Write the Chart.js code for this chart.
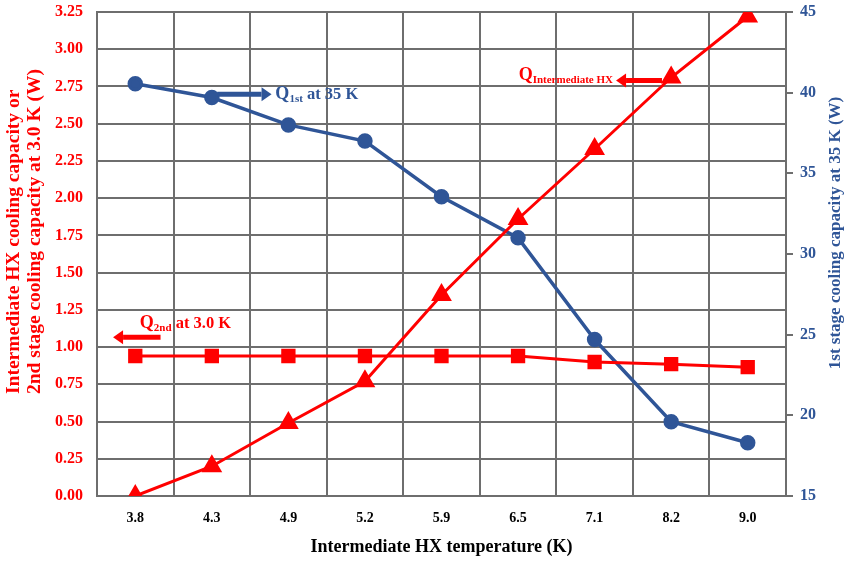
<!DOCTYPE html>
<html>
<head>
<meta charset="utf-8">
<script src="https://cdn.jsdelivr.net/npm/chart.js@4"></script>
<style>
  html, body { margin: 0; padding: 0; background: #fff; }
  #wrap { width: 845px; height: 561px; }
</style>
</head>
<body>
<div id="wrap"><canvas id="chart"></canvas></div>
<script>
const temps = ["3.8", "4.3", "4.9", "5.2", "5.9", "6.5", "7.1", "8.2", "9.0"];
const qIntermediate = [0.0, 0.2, 0.49, 0.77, 1.35, 1.86, 2.33, 2.81, 3.22];
const q2nd = [0.94, 0.94, 0.94, 0.94, 0.94, 0.94, 0.9, 0.885, 0.865];
const q1st = [40.55, 39.7, 38.0, 37.0, 33.55, 31.0, 24.7, 19.6, 18.3];
const leftTicks = [0, 0.25, 0.5, 0.75, 1, 1.25, 1.5, 1.75, 2, 2.25, 2.5, 2.75, 3, 3.25];
const rightTicks = [15, 20, 25, 30, 35, 40, 45];
const leftTitle = ["Intermediate HX cooling capacity or", "2nd stage cooling capacity at 3.0 K (W)"];
const rightTitle = "1st stage cooling capacity at 35 K (W)";

const RED = "#ff0000";
const BLUE = "#2f5597";
const GRID = "#6e6e6e";
const FONT = "'Liberation Serif', 'Times New Roman', serif";

// note positions in data units: [x index, axis value]
const notes = [
  { axis: "y2", color: BLUE, from: [1.07, 39.9], to: [1.78, 39.9],
    textAt: [1.83, 39.9], align: "left", main: "Q", sub: "1st", tail: " at 35 K" },
  { axis: "y", color: RED, from: [6.88, 2.79], to: [6.28, 2.79],
    textAt: [6.24, 2.83], align: "right", main: "Q", sub: "Intermediate HX", tail: "" },
  { axis: "y", color: RED, from: [0.33, 1.066], to: [-0.29, 1.066],
    textAt: [0.06, 1.165], align: "left", main: "Q", sub: "2nd", tail: " at 3.0 K" }
];

function drawArrow(ctx, x1, y1, x2, y2, color) {
  const dir = Math.sign(x2 - x1);
  const head = 10;
  ctx.save();
  ctx.strokeStyle = color;
  ctx.fillStyle = color;
  ctx.lineWidth = 5;
  ctx.beginPath();
  ctx.moveTo(x1, y1);
  ctx.lineTo(x2 - dir * head, y2);
  ctx.stroke();
  ctx.beginPath();
  ctx.moveTo(x2, y2);
  ctx.lineTo(x2 - dir * head, y2 - 7);
  ctx.lineTo(x2 - dir * head, y2 + 7);
  ctx.closePath();
  ctx.fill();
  ctx.restore();
}

const notePlugin = {
  id: "notes",
  afterDatasetsDraw(chart) {
    const ctx = chart.ctx;
    const xs = chart.scales.x;
    notes.forEach(n => {
      const ys = chart.scales[n.axis];
      drawArrow(ctx, xs.getPixelForValue(n.from[0]), ys.getPixelForValue(n.from[1]),
        xs.getPixelForValue(n.to[0]), ys.getPixelForValue(n.to[1]), n.color);
      const mainF = "bold 18px " + FONT, subF = "bold 11px " + FONT, tailF = "bold 16.5px " + FONT;
      ctx.save();
      ctx.fillStyle = n.color;
      ctx.textBaseline = "alphabetic";
      ctx.font = mainF; const w1 = ctx.measureText(n.main).width;
      ctx.font = subF; const w2 = ctx.measureText(n.sub).width;
      ctx.font = tailF; const w3 = ctx.measureText(n.tail).width;
      const total = w1 + w2 + w3;
      let x = xs.getPixelForValue(n.textAt[0]);
      if (n.align === "right") x -= total;
      const y = ys.getPixelForValue(n.textAt[1]) + 5;
      ctx.font = mainF; ctx.fillText(n.main, x, y);
      ctx.font = subF; ctx.fillText(n.sub, x + w1, y + 3);
      ctx.font = tailF; ctx.fillText(n.tail, x + w1 + w2, y);
      ctx.restore();
    });
  }
};

// vertical axis titles: left one is start-aligned at the bottom, like the original
const axisTitlePlugin = {
  id: "axisTitles",
  afterDraw(chart) {
    const ctx = chart.ctx;
    const area = chart.chartArea;
    ctx.save();
    ctx.textBaseline = "middle";
    ctx.textAlign = "left";
    ctx.font = "bold 19.5px " + FONT;
    ctx.fillStyle = RED;
    leftTitle.forEach((line, i) => {
      ctx.save();
      ctx.translate(14 + i * 21, area.bottom - 102);
      ctx.rotate(-Math.PI / 2);
      ctx.fillText(line, 0, 0);
      ctx.restore();
    });
    ctx.textAlign = "center";
    ctx.font = "bold 17px " + FONT;
    ctx.fillStyle = BLUE;
    ctx.translate(836, (area.top + area.bottom) / 2 - 21);
    ctx.rotate(-Math.PI / 2);
    ctx.fillText(rightTitle, 0, 0);
    ctx.restore();
  }
};

const fitY = w => s => { s.width = w; s.paddingTop = 0; s.paddingBottom = 0; };

new Chart(document.getElementById("chart"), {
  type: "line",
  data: {
    labels: temps,
    datasets: [
      {
        label: "Q Intermediate HX",
        data: qIntermediate,
        yAxisID: "y",
        borderColor: RED,
        backgroundColor: RED,
        borderWidth: 3,
        pointStyle: "triangle",
        pointRadius: 9,
        pointHoverRadius: 9
      },
      {
        label: "Q 2nd at 3.0 K",
        data: q2nd,
        yAxisID: "y",
        borderColor: RED,
        backgroundColor: RED,
        borderWidth: 3,
        pointStyle: "rect",
        pointRadius: 8,
        pointHoverRadius: 8
      },
      {
        label: "Q 1st at 35 K",
        data: q1st,
        yAxisID: "y2",
        borderColor: BLUE,
        backgroundColor: BLUE,
        borderWidth: 3.5,
        pointStyle: "circle",
        pointRadius: 6,
        pointHoverRadius: 6
      }
    ]
  },
  options: {
    responsive: true,
    maintainAspectRatio: false,
    animation: false,
    layout: { padding: { top: 11, left: 0, right: 0, bottom: 0 } },
    plugins: { legend: { display: false }, tooltip: { enabled: false } },
    scales: {
      x: {
        offset: true,
        grid: { offset: true, color: GRID, lineWidth: 2, drawTicks: false },
        border: { color: GRID, width: 2 },
        ticks: { color: "#000", padding: 14, font: { family: FONT, size: 14, weight: "bold" } },
        title: {
          display: true,
          text: "Intermediate HX temperature (K)",
          color: "#000",
          padding: { top: 0, bottom: 3 },
          font: { family: FONT, size: 18, weight: "bold" }
        },
        afterFit: s => { s.height = 65; s.paddingLeft = 0; s.paddingRight = 0; }
      },
      y: {
        position: "left",
        min: 0,
        max: 3.25,
        afterBuildTicks: s => { s.ticks = leftTicks.map(v => ({ value: v })); },
        grid: { color: GRID, lineWidth: 2, drawTicks: false },
        border: { color: GRID, width: 2 },
        ticks: {
          color: RED,
          padding: 14,
          font: { family: FONT, size: 16, weight: "bold" },
          callback: v => Number(v).toFixed(2)
        },
        afterFit: fitY(97)
      },
      y2: {
        position: "right",
        min: 15,
        max: 45,
        afterBuildTicks: s => { s.ticks = rightTicks.map(v => ({ value: v })); },
        grid: { drawOnChartArea: false, drawTicks: true, tickLength: 7, color: GRID, lineWidth: 2 },
        border: { color: GRID, width: 2 },
        ticks: { color: BLUE, padding: 7, font: { family: FONT, size: 16, weight: "bold" } },
        afterFit: fitY(59)
      }
    }
  },
  plugins: [notePlugin, axisTitlePlugin]
});
</script>
</body>
</html>
